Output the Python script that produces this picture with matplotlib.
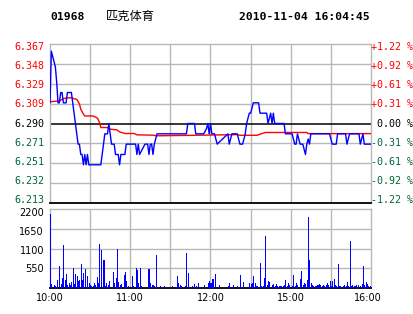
import matplotlib
matplotlib.use('Agg')
import matplotlib.pyplot as plt
import matplotlib.transforms as mtransforms
import numpy as np

# ---------------- data ----------------
code = "01968"
name = "匹克体育"
stamp = "2010-11-04 16:04:45"
prev_close = 6.290
half_range = 0.077
price_labels = ["6.367", "6.348", "6.329", "6.309", "6.290", "6.271", "6.251", "6.232", "6.213"]
pct_labels = ["+1.22 %", "+0.92 %", "+0.61 %", "+0.31 %", "0.00 %", "-0.31 %", "-0.61 %", "-0.92 %", "-1.22 %"]
vol_ticks = [2200, 1650, 1100, 550]
vol_labels = ["2200", "1650", "1100", "550"]
time_ticks = [0, 60, 120, 180, 240]
time_labels = ["10:00", "11:00", "12:00", "15:00", "16:00"]

price_min = [0, 1, 2, 3, 4, 5, 6, 7, 8, 9, 10, 11, 12, 13, 14, 15, 16, 17, 18, 19, 20, 21, 22, 23, 24,
             25, 26, 27, 28, 29, 38, 39, 40, 41, 43, 44, 45, 46, 48, 49, 51, 52, 53, 56, 57, 64, 65,
             66, 67, 71, 73, 74, 75, 76, 77, 78, 79, 80, 102, 103, 108, 109, 115, 117, 118, 119, 120,
             121, 123, 125, 133, 134, 135, 136, 140, 141, 142, 144, 145, 146, 147, 148, 149, 150, 151,
             152, 156, 157, 162, 163, 164, 165, 166, 167, 168, 175, 176, 181, 182, 183, 184, 185, 186,
             187, 189, 190, 191, 192, 193, 194, 195, 209, 210, 211, 214, 215, 221, 222, 223, 224, 231,
             232, 233, 234, 235, 240]
price_val = [6.31, 6.36, 6.355, 6.35, 6.345, 6.33, 6.31, 6.31, 6.32, 6.32, 6.31, 6.31, 6.31, 6.32, 6.32,
             6.32, 6.32, 6.31, 6.30, 6.29, 6.28, 6.27, 6.27, 6.26, 6.26,
             6.25, 6.26, 6.25, 6.26, 6.25, 6.25, 6.26, 6.27, 6.28, 6.28, 6.29, 6.28, 6.27, 6.27, 6.26,
             6.26, 6.25, 6.26, 6.26, 6.27, 6.27, 6.26,
             6.27, 6.26, 6.27, 6.27, 6.26, 6.27, 6.27, 6.26, 6.27, 6.275, 6.28, 6.28, 6.29, 6.29, 6.28,
             6.28, 6.285, 6.29, 6.28, 6.29,
             6.28, 6.28, 6.27, 6.28, 6.27, 6.275, 6.28, 6.28, 6.275, 6.27, 6.27, 6.275, 6.28, 6.29,
             6.295, 6.30, 6.30, 6.305,
             6.31, 6.31, 6.30, 6.30, 6.29, 6.295, 6.30, 6.29, 6.30, 6.29, 6.29, 6.28, 6.28, 6.275,
             6.27, 6.27, 6.28, 6.275,
             6.27, 6.27, 6.265, 6.26, 6.27, 6.275, 6.27, 6.28, 6.28, 6.275, 6.27, 6.27, 6.28, 6.28,
             6.27, 6.275, 6.28, 6.28,
             6.27, 6.275, 6.28, 6.27, 6.27]

avg_min = [0, 7, 11, 16, 18, 20, 22, 23, 25, 26, 32, 35, 36, 37, 38, 43, 45, 50, 52, 56, 63, 65, 77, 80,
           103, 140, 142, 155, 157, 161, 192, 193, 240]
avg_val = [6.311, 6.312, 6.3145, 6.315, 6.314, 6.3134, 6.309, 6.3038, 6.299, 6.2973, 6.2973, 6.2957,
           6.294, 6.2909, 6.2861, 6.2861, 6.2845, 6.2838, 6.2819, 6.2803, 6.2803, 6.279, 6.2787, 6.2781,
           6.2785, 6.2792, 6.2786, 6.2786, 6.2797, 6.2813, 6.2813, 6.2802, 6.2802]

vol_min = [0, 1, 3, 4, 5, 7, 8, 9, 10, 11, 12, 13, 14, 15, 16, 17, 18, 19, 20, 21, 22, 23, 24, 25, 26,
           28, 29, 30, 31, 32, 33, 34, 35, 36, 37, 38, 40, 41, 42, 43, 44, 47, 48, 49, 50, 51, 52, 53,
           55, 56, 57, 58, 61, 62, 64, 65, 66, 67, 68, 73, 74, 75, 76, 77, 78, 79, 82, 85, 91, 95, 96,
           97, 98, 101, 102, 103, 106, 108, 109, 111, 115, 118, 119, 120, 121, 122, 123, 126, 133, 134,
           137, 140, 142, 144, 149, 150, 151, 152, 153, 154, 155, 157, 158, 159, 160, 161, 162, 163,
           164, 166, 167, 168, 169, 170, 171, 172, 173, 174, 175, 176, 177, 178, 179, 181, 182, 183,
           184, 185, 187, 188, 189, 190, 191, 192, 193, 194, 195, 196, 197, 198, 199, 200, 201, 202,
           203, 204, 205, 206, 207, 208, 209, 210, 211, 212, 213, 214, 215, 216, 217, 219, 220, 221,
           222, 223, 224, 225, 226, 227, 228, 229, 230, 232, 233, 234, 235, 236, 237, 238, 239]
vol_val = [2070, 110, 85, 65, 220, 615, 110, 290, 1200, 220, 390, 85, 130, 85, 160, 570, 100, 390, 345,
           195, 220, 660, 220, 420, 530,
           335, 140, 85, 55, 55, 140, 85, 310, 140, 1230, 1060, 780, 55, 140, 85, 195, 450, 140, 280,
           1090, 170, 85, 110,
           365, 450, 195, 55, 335, 55, 560, 500, 140, 560, 55, 530, 530, 140, 85, 85, 55, 920, 55, 55,
           55, 335, 140,
           85, 55, 55, 980, 420, 55, 110, 55, 140, 85, 140, 195, 140, 250, 250, 380, 84, 56, 130,
           84, 56, 363, 168, 130, 112, 150, 335, 130, 56, 56, 690, 56, 56, 270, 1455, 84, 195,
           177, 84, 112, 56, 112, 56, 56, 56, 56, 56, 84, 224, 56, 140, 84, 56, 363, 56,
           130, 84, 250, 475, 84, 140, 112, 224, 1985, 783, 130, 84, 56, 56, 56, 84, 112, 84,
           56, 84, 56, 84, 130, 84, 195, 56, 195, 250, 84, 56, 660, 56, 56, 56, 84, 56,
           168, 56, 1295, 56, 84, 56, 56, 84, 84, 56, 112, 615, 84, 168, 112, 56, 56]

# ---------------- style ----------------
RED = '#ff0000'
GREEN = '#006633'
BLUE = '#0000ff'
GRID = '#b8b8b8'
W, H = 414, 314

fig = plt.figure(figsize=(W / 100, H / 100), dpi=100)
fig.patch.set_facecolor('white')


def fx(px):
    return px / W


def fy(px):
    return 1 - px / H


def off(dx, dy):
    return mtransforms.ScaledTranslation(dx / 100, -dy / 100, fig.dpi_scale_trans)


L, R = 50, 371
ax = fig.add_axes([fx(L), fy(203), fx(R - L), (203 - 44) / H])
axv = fig.add_axes([fx(L), fy(288), fx(R - L), (288 - 209) / H])

lo, hi = prev_close - half_range, prev_close + half_range
levels = np.linspace(hi, lo, 9)

for a in (ax, axv):
    a.set_xlim(0, 240)
    a.set_xticks([])
    a.set_yticks([])
    for s in ('top', 'left', 'right'):
        a.spines[s].set_color(GRID)
        a.spines[s].set_linewidth(1.0)
    a.spines['bottom'].set_color('black')
    a.spines['bottom'].set_linewidth(1.3)
    for t in range(30, 240, 30):
        a.axvline(t, color=GRID, lw=1.0, zorder=0)

ax.set_ylim(lo, hi)
for i, lv in enumerate(levels[1:-1]):
    if abs(lv - prev_close) < 1e-9:
        ax.axhline(lv, color='black', lw=1.1, zorder=1)
    else:
        ax.axhline(lv, color=GRID, lw=1.0, zorder=0)

ax.plot(avg_min, avg_val, color=RED, lw=1.0, zorder=3)
ax.plot(price_min, price_val, color=BLUE, lw=1.0, zorder=4)

ytr = ax.get_yaxis_transform()
for i, (lv, lab, pl) in enumerate(zip(levels, price_labels, pct_labels)):
    c = RED if i < 4 else ('black' if i == 4 else GREEN)
    dy = 3 - 0.75 * i
    ax.text(0, lv, lab, transform=ytr + off(-6, dy), ha='right', va='center',
            family='DejaVu Sans Mono', fontsize=7.2, color=c)
    ax.text(1, lv, pl, transform=ytr + off(42, dy), ha='right', va='center',
            family='DejaVu Sans Mono', fontsize=7.2, color=c)

# volume
axv.set_ylim(0, 2200)
for v in vol_ticks[1:]:
    axv.axhline(v, color=GRID, lw=1.0, zorder=0)
axv.bar(vol_min, vol_val, width=0.75, align='edge', color=BLUE, linewidth=0, zorder=3,
        antialiased=False)
vtr = axv.get_yaxis_transform()
for k, (v, lab) in enumerate(zip(vol_ticks, vol_labels)):
    axv.text(0, v, lab, transform=vtr + off(-6, 4 - k), ha='right', va='center',
             family='DejaVu Sans', fontsize=7.0, color='black')
xtr = axv.get_xaxis_transform()
for t, lab in zip(time_ticks, time_labels):
    dx = -3 if t == time_ticks[-1] else 0
    axv.text(t, 0, lab, transform=xtr + off(dx, 10), ha='center', va='center',
             family='DejaVu Sans', fontsize=7.0, color='black')

# title
fig.text(fx(50), fy(16.5), code, ha='left', va='center', family='DejaVu Sans Mono',
         fontweight='bold', fontsize=8.2)
fig.text(fx(106), fy(16), name, ha='left', va='center', family=['Noto Sans CJK SC', 'DejaVu Sans'],
         fontsize=8.8)
fig.text(fx(370), fy(16.5), stamp, ha='right', va='center', family='DejaVu Sans Mono',
         fontweight='bold', fontsize=8.2)

fig.savefig('out.png', dpi=100)
